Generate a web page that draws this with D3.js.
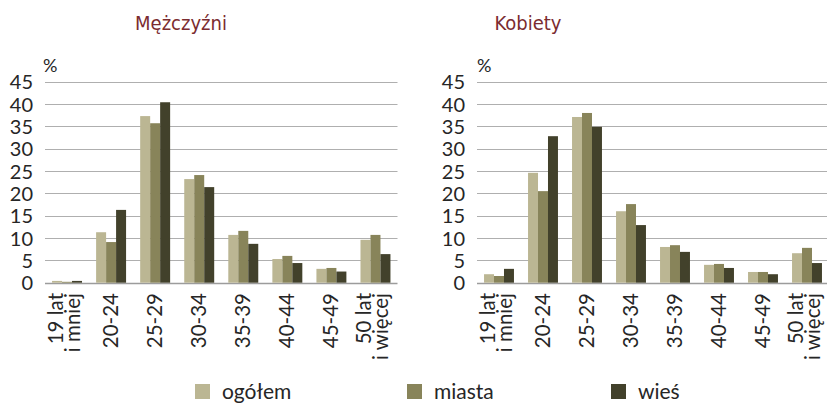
<!DOCTYPE html>
<html><head><meta charset="utf-8">
<script src="https://cdn.jsdelivr.net/npm/d3@7"></script>
<style>
html,body{margin:0;padding:0;background:#fff;}
svg{display:block;}
</style></head>
<body>
<svg id="c" width="828" height="403"></svg>
<script>
const categories = [["19 lat","i mniej"],["20-24"],["25-29"],["30-34"],["35-39"],["40-44"],["45-49"],["50 lat","i więcej"]];
const seriesNames = ["ogółem","miasta","wieś"];
const colors = ["#bbb693","#88845a","#42412b"];
const men_ogolem = [0.4,11.3,37.3,23.2,10.7,5.3,3.1,9.6];
const men_miasta = [0.2,9.1,35.7,24.1,11.6,6.0,3.3,10.7];
const men_wies   = [0.4,16.3,40.4,21.4,8.7,4.4,2.5,6.4];
const women_ogolem = [1.9,24.6,37.1,16.0,8.0,4.0,2.4,6.6];
const women_miasta = [1.5,20.5,38.0,17.6,8.4,4.2,2.4,7.8];
const women_wies   = [3.1,32.8,34.9,12.9,6.9,3.3,1.9,4.4];
const yTicks = [0,5,10,15,20,25,30,35,40,45];
const titles = ["Mężczyźni","Kobiety"];

const panels = [
  {title: titles[0], data:[men_ogolem,men_miasta,men_wies], x0:45, x1:397.5, titleX:181, unitX:43},
  {title: titles[1], data:[women_ogolem,women_miasta,women_wies], x0:477, x1:829, titleX:528, unitX:477}
];

const svg = d3.select("#c");
const y = d3.scaleLinear().domain([0,45]).range([282.7,81.7]);
const labelFont = "Lato, 'Open Sans', sans-serif";

panels.forEach(p => {
  const g = svg.append("g");
  const x = d3.scaleBand().domain(d3.range(categories.length)).range([p.x0,p.x1]).paddingInner(0.32).paddingOuter(0.16);
  const xs = d3.scaleBand().domain(d3.range(seriesNames.length)).range([0,x.bandwidth()]);

  g.selectAll("line.grid").data(yTicks).join("line")
    .attr("x1",p.x0).attr("x2",Math.min(p.x1,827))
    .attr("y1",d=>Math.round(y(d))+0.5).attr("y2",d=>Math.round(y(d))+0.5)
    .attr("stroke", d=> d===0 ? "#9c9c9c" : "#afafaf")
    .attr("stroke-width", d=> d===0 ? 1.6 : 1.2);

  const yAxis = d3.axisLeft(y).tickValues(yTicks).tickSize(0).tickPadding(12);
  const ya = g.append("g").attr("transform",`translate(${p.x0},0)`).call(yAxis);
  ya.select(".domain").remove();
  ya.selectAll("text").attr("font-family",labelFont).attr("font-size",20).attr("fill","#262626").attr("dy","0.36em");

  p.data.forEach((vals,si) => {
    g.selectAll(null).data(vals).join("rect")
      .attr("x",(d,i)=>x(i)+xs(si))
      .attr("width",xs.bandwidth())
      .attr("y",d=>y(d))
      .attr("height",d=>y(0)-y(d))
      .attr("fill",colors[si]);
  });

  categories.forEach((lines,i) => {
    const cx = x(i)+x.bandwidth()/2;
    const t = g.append("text")
      .attr("transform",`translate(${cx},293) rotate(-90)`)
      .attr("text-anchor","end")
      .attr("font-family",labelFont).attr("font-size",20.5).attr("fill","#262626");
    if (lines.length===1) {
      t.append("tspan").attr("x",0).attr("y",7).text(lines[0]);
    } else {
      t.append("tspan").attr("x",0).attr("y",-4).text(lines[0]);
      t.append("tspan").attr("x",0).attr("y",13).text(lines[1]);
    }
  });

  g.append("text").attr("x",p.unitX).attr("y",72).attr("font-family",labelFont).attr("font-size",18).attr("fill","#262626").text("%");

  g.append("text").attr("x",p.titleX).attr("y",30).attr("text-anchor","middle")
    .attr("font-family","'DejaVu Sans Condensed','DejaVu Sans',sans-serif").attr("font-stretch","condensed")
    .attr("font-size",20).attr("fill","#7b2c30").text(p.title);
});

const legX = [195,407,611];
const leg = svg.append("g");
seriesNames.forEach((s,i) => {
  leg.append("rect").attr("x",legX[i]).attr("y",384).attr("width",15).attr("height",15).attr("fill",colors[i]);
  leg.append("text").attr("x",legX[i]+27).attr("y",399).attr("font-family",labelFont).attr("font-size",21).attr("fill","#262626").text(s);
});
</script>
</body></html>
